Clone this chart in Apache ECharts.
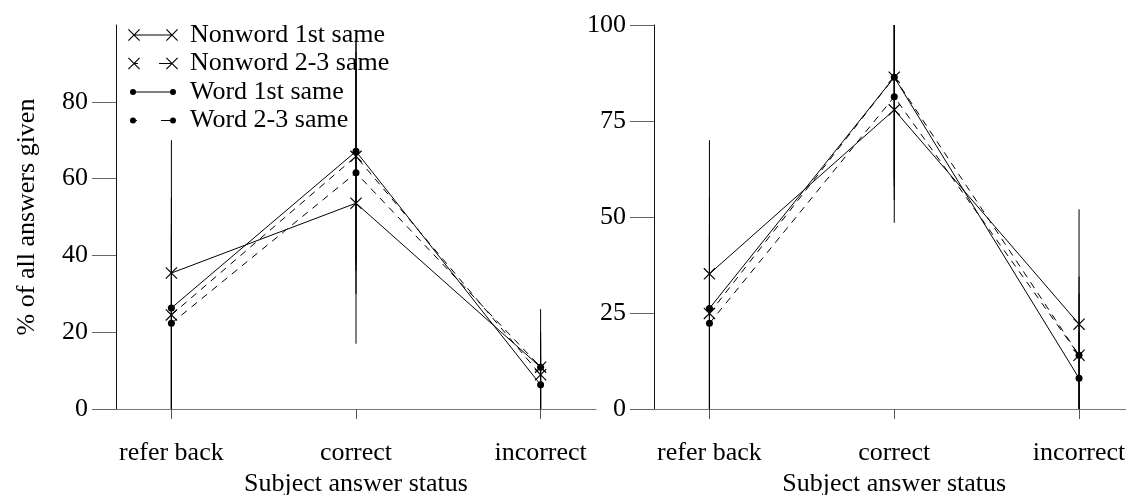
<!DOCTYPE html>
<html><head><meta charset="utf-8">
<script src="https://cdn.jsdelivr.net/npm/echarts@6/dist/echarts.min.js"></script>
<style>html,body{margin:0;padding:0;background:#fff}#c{width:1126px;height:495px}</style>
</head><body><div id="c"></div>
<script>
// ---------- data ----------
const categories = ['refer back', 'correct', 'incorrect'];
const seriesNames = ['Nonword 1st same', 'Nonword 2-3 same', 'Word 1st same', 'Word 2-3 same'];

// left panel values (%)
const leftNonword1 = [35.4, 53.6, 10.9];
const leftNonword23 = [24.5, 65.8, 8.9];
const leftWord1 = [26.3, 67.1, 6.3];
const leftWord23 = [22.3, 61.5, 10.9];
// left panel error bar lows / highs
const leftNonword1Low = [0, 17, 0];
const leftNonword1High = [70, 90, 26];
const leftNonword23Low = [0, 36, 0];
const leftNonword23High = [48, 96, 18];
const leftWord1Low = [0, 38, 0];
const leftWord1High = [55, 96, 14];
const leftWord23Low = [0, 30, 0];
const leftWord23High = [45, 93, 20];

// right panel values
const rightNonword1 = [35.2, 77.9, 22.1];
const rightNonword23 = [24.9, 86.4, 14.0];
const rightWord1 = [26.2, 86.4, 8.0];
const rightWord23 = [22.3, 81.3, 14.0];
// right panel error bar lows / highs
const rightNonword1Low = [0, 48.5, 0];
const rightNonword1High = [70, 100, 52];
const rightNonword23Low = [0, 58, 0];
const rightNonword23High = [48, 100, 34.5];
const rightWord1Low = [0, 60, 0];
const rightWord1High = [55, 100, 20];
const rightWord23Low = [0, 54.5, 0];
const rightWord23High = [45, 100, 30];

const leftYTicks = [0, 20, 40, 60, 80];
const rightYTicks = [0, 25, 50, 75, 100];
const xTicks = [1, 2, 3];

// ---------- styling ----------
const FONT = "'Liberation Serif', 'Times New Roman', serif";
const FS = 26;
const X_SYM = 'path://M0,0.8L0.8,0L12,11.2L11.2,12Z M0,11.2L11.2,0L12,0.8L0.8,12Z';
function xAt(o) {
  return `M${o},0.8L${o+0.8},0L${o+12},11.2L${o+11.2},12Z M${o},11.2L${o+11.2},0L${o+12},0.8L${o+0.8},12Z`;
}
function dotAt(cx) {
  return `M${cx-3},6A3,3 0 1,1 ${cx+3},6A3,3 0 1,1 ${cx-3},6Z`;
}
function seg(a, b) { return `M${a},5.5L${b},5.5L${b},6.5L${a},6.5Z`; }
const ANCH = 'M0,0L0.01,0L0,0.01Z M50,12L49.99,12L50,11.99Z';
const legendIcons = [
  'path://' + xAt(0) + ' ' + seg(6, 44) + ' ' + xAt(38),
  'path://' + xAt(0) + ' ' + seg(6, 10) + ' ' + seg(31, 44) + ' ' + xAt(38),
  'path://' + ANCH + ' ' + dotAt(5) + ' ' + seg(5, 45) + ' ' + dotAt(45),
  'path://' + ANCH + ' ' + dotAt(5) + ' ' + seg(5, 9) + ' ' + seg(33, 45) + ' ' + dotAt(45)
];

function pts(vals) { return vals.map((v, i) => [i + 1, v]); }
function errData(lows, highs) {
  const out = [];
  lows.forEach((arr, s) => arr.forEach((lo, i) => out.push([i + 1, lo, highs[s][i]])));
  return out;
}
function renderErr(params, api) {
  const x = api.value(0);
  const p1 = api.coord([x, api.value(1)]);
  const p2 = api.coord([x, api.value(2)]);
  return { type: 'line', shape: { x1: p1[0], y1: p1[1], x2: p2[0], y2: p2[1] },
           style: { stroke: '#000', lineWidth: 1 } };
}
function lineSeries(name, vals, idx, isWord, dashed) {
  return {
    type: 'line', name: name, data: pts(vals),
    xAxisIndex: idx, yAxisIndex: idx,
    symbol: isWord ? 'circle' : X_SYM,
    symbolSize: isWord ? 7 : 12,
    showAllSymbol: true,
    itemStyle: { color: '#000' },
    lineStyle: { color: '#000', width: 1, type: dashed ? [7, 6] : 'solid' },
    z: 5, animation: false
  };
}
function xAxis(idx) {
  return {
    type: 'value', gridIndex: idx, min: 0.7, max: 3.3,
    name: 'Subject answer status', nameLocation: 'middle', nameGap: 62,
    nameTextStyle: { fontFamily: FONT, fontSize: FS, color: '#000' },
    axisLine: { show: true, onZero: false, lineStyle: { color: '#777', width: 1 } },
    axisTick: { show: true, customValues: xTicks, length: 10, lineStyle: { color: '#555' } },
    axisLabel: { customValues: xTicks, margin: 31, fontFamily: FONT, fontSize: FS, color: '#000',
                 formatter: v => categories[Math.round(v) - 1] },
    splitLine: { show: false }
  };
}
function yAxis(idx, ticks, interval, withName) {
  return {
    type: 'value', gridIndex: idx, min: 0, max: 100, interval: interval,
    name: withName ? '% of all answers given' : '', nameLocation: 'middle', nameGap: 76,
    nameTextStyle: { fontFamily: FONT, fontSize: FS, color: '#000' },
    axisLine: { show: true, lineStyle: { color: '#111', width: 1 } },
    axisTick: { show: true, customValues: ticks, length: 24, lineStyle: { color: '#666' } },
    axisLabel: { customValues: ticks, margin: 28, fontFamily: FONT, fontSize: FS, color: '#000' },
    splitLine: { show: false }
  };
}

const chart = echarts.init(document.getElementById('c'), null, { renderer: 'canvas' });
chart.setOption({
  backgroundColor: '#fff',
  animation: false,
  grid: [
    { left: 116, top: 25, width: 480, height: 384, outerBoundsMode: 'none', containLabel: false },
    { left: 654, top: 25, width: 480.5, height: 384, outerBoundsMode: 'none', containLabel: false }
  ],
  xAxis: [xAxis(0), xAxis(1)],
  yAxis: [yAxis(0, leftYTicks, 20, true), yAxis(1, rightYTicks, 25, false)],
  legend: {
    orient: 'vertical', left: 128, top: 21, padding: 0, itemGap: 0.5,
    itemWidth: 50, itemHeight: 12, selectedMode: false,
    textStyle: { fontFamily: FONT, fontSize: FS, color: '#000', lineHeight: 28, padding: [0, 0, 0, 7] },
    data: seriesNames.map((n, i) => ({ name: n, icon: legendIcons[i] }))
  },
  series: [
    { type: 'custom', xAxisIndex: 0, yAxisIndex: 0, renderItem: renderErr, z: 2, silent: true,
      data: errData([leftNonword1Low, leftNonword23Low, leftWord1Low, leftWord23Low],
                    [leftNonword1High, leftNonword23High, leftWord1High, leftWord23High]) },
    { type: 'custom', xAxisIndex: 1, yAxisIndex: 1, renderItem: renderErr, z: 2, silent: true,
      data: errData([rightNonword1Low, rightNonword23Low, rightWord1Low, rightWord23Low],
                    [rightNonword1High, rightNonword23High, rightWord1High, rightWord23High]) },
    lineSeries(seriesNames[0], leftNonword1, 0, false, false),
    lineSeries(seriesNames[1], leftNonword23, 0, false, true),
    lineSeries(seriesNames[2], leftWord1, 0, true, false),
    lineSeries(seriesNames[3], leftWord23, 0, true, true),
    lineSeries(seriesNames[0], rightNonword1, 1, false, false),
    lineSeries(seriesNames[1], rightNonword23, 1, false, true),
    lineSeries(seriesNames[2], rightWord1, 1, true, false),
    lineSeries(seriesNames[3], rightWord23, 1, true, true)
  ]
});
</script>
</body></html>
